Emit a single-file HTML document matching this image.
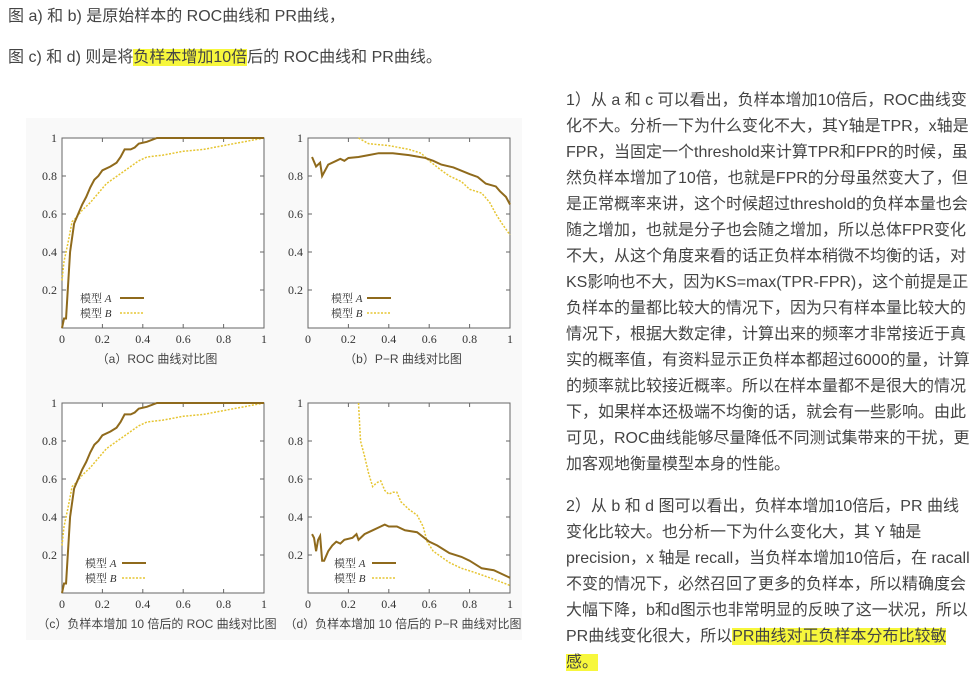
<!DOCTYPE html>
<html><head><meta charset="utf-8">
<style>
body{margin:0;width:980px;height:682px;background:#fff;overflow:hidden;position:relative;font-family:"Liberation Sans","Noto Sans CJK SC",sans-serif;color:#444;}
.t{position:absolute;font-size:16px;white-space:nowrap;line-height:26px;}
.hl{background:#f7f73c;}
.col{position:absolute;left:566px;top:88px;font-size:16px;line-height:26px;}
.col div{white-space:nowrap;}
#fig{position:absolute;left:0;top:0;}
</style></head><body>
<div class="t" style="left:8px;top:4px;">图 a) 和 b) 是原始样本的 ROC曲线和 PR曲线，</div>
<div class="t" style="left:8px;top:45px;">图 c) 和 d) 则是将<span class="hl">负样本增加10倍</span>后的 ROC曲线和 PR曲线。</div>
<svg id="fig" width="980" height="682"></svg>
<div class="col">
<div>
<div>1）从 a 和 c 可以看出，负样本增加10倍后，ROC曲线变</div>
<div>化不大。分析一下为什么变化不大，其Y轴是TPR，x轴是</div>
<div>FPR，当固定一个threshold来计算TPR和FPR的时候，虽</div>
<div>然负样本增加了10倍，也就是FPR的分母虽然变大了，但</div>
<div>是正常概率来讲，这个时候超过threshold的负样本量也会</div>
<div>随之增加，也就是分子也会随之增加，所以总体FPR变化</div>
<div>不大，从这个角度来看的话正负样本稍微不均衡的话，对</div>
<div>KS影响也不大，因为KS=max(TPR-FPR)，这个前提是正</div>
<div>负样本的量都比较大的情况下，因为只有样本量比较大的</div>
<div>情况下，根据大数定律，计算出来的频率才非常接近于真</div>
<div>实的概率值，有资料显示正负样本都超过6000的量，计算</div>
<div>的频率就比较接近概率。所以在样本量都不是很大的情况</div>
<div>下，如果样本还极端不均衡的话，就会有一些影响。由此</div>
<div>可见，ROC曲线能够尽量降低不同测试集带来的干扰，更</div>
<div>加客观地衡量模型本身的性能。</div>
</div>
<div style="margin-top:16px;">
<div>2）从 b 和 d 图可以看出，负样本增加10倍后，PR 曲线</div>
<div>变化比较大。也分析一下为什么变化大，其 Y 轴是</div>
<div>precision，x 轴是 recall，当负样本增加10倍后，在 racall</div>
<div>不变的情况下，必然召回了更多的负样本，所以精确度会</div>
<div>大幅下降，b和d图示也非常明显的反映了这一状况，所以</div>
<div>PR曲线变化很大，所以<span class="hl">PR曲线对正负样本分布比较敏</span></div>
<div><span class="hl">感。</span></div>
</div>
</div>
<script>
const ticks=[0,0.2,0.4,0.6,0.8,1];
const tickLabels=["0","0.2","0.4","0.6","0.8","1"];
const rocAx=[0,0.01,0.02,0.04,0.06,0.08,0.1,0.12,0.14,0.16,0.18,0.2,0.24,0.27,0.29,0.31,0.34,0.36,0.38,0.42,0.47,1];
const rocAy=[0,0.05,0.05,0.4,0.55,0.6,0.65,0.69,0.74,0.78,0.8,0.83,0.85,0.87,0.9,0.94,0.94,0.95,0.97,0.98,1,1];
const rocBx=[0,0.01,0.03,0.05,0.07,0.1,0.14,0.18,0.22,0.26,0.3,0.34,0.38,0.42,0.5,0.6,0.7,0.8,0.9,1];
const rocBy=[0.25,0.35,0.45,0.56,0.58,0.62,0.66,0.71,0.76,0.79,0.82,0.85,0.88,0.9,0.91,0.93,0.94,0.96,0.98,1];
const prAx=[0.02,0.04,0.06,0.07,0.1,0.14,0.16,0.18,0.2,0.25,0.3,0.35,0.42,0.5,0.58,0.62,0.66,0.72,0.8,0.84,0.88,0.93,0.95,0.98,1];
const prAy=[0.9,0.85,0.87,0.8,0.86,0.88,0.89,0.88,0.895,0.9,0.91,0.92,0.92,0.91,0.895,0.88,0.86,0.845,0.81,0.795,0.76,0.745,0.72,0.69,0.65];
const prBx=[0.25,0.3,0.4,0.5,0.56,0.6,0.66,0.7,0.76,0.8,0.86,0.9,0.93,0.96,1];
const prBy=[1,0.97,0.96,0.94,0.92,0.88,0.83,0.8,0.77,0.73,0.71,0.66,0.6,0.55,0.49];
const pr10Ax=[0.02,0.03,0.04,0.05,0.06,0.07,0.08,0.1,0.12,0.14,0.16,0.18,0.22,0.24,0.25,0.28,0.32,0.36,0.38,0.4,0.44,0.48,0.54,0.6,0.64,0.7,0.76,0.8,0.86,0.92,0.96,1];
const pr10Ay=[0.31,0.29,0.22,0.28,0.3,0.17,0.17,0.22,0.25,0.27,0.26,0.28,0.29,0.31,0.28,0.31,0.33,0.35,0.36,0.35,0.35,0.33,0.32,0.27,0.25,0.21,0.19,0.17,0.13,0.12,0.1,0.08];
const pr10Bx=[0.25,0.26,0.28,0.3,0.32,0.34,0.36,0.38,0.4,0.42,0.44,0.46,0.5,0.54,0.57,0.59,0.62,0.66,0.7,0.76,0.82,0.9,0.95,1];
const pr10By=[1,0.8,0.72,0.63,0.56,0.58,0.59,0.54,0.52,0.53,0.53,0.48,0.44,0.41,0.35,0.27,0.22,0.19,0.16,0.13,0.11,0.08,0.06,0.04];
const svg=document.getElementById('fig');const NS='http://www.w3.org/2000/svg';
function mk(t,a,p){const e=document.createElementNS(NS,t);for(const k in a)e.setAttribute(k,a[k]);(p||svg).appendChild(e);return e;}
const bg=mk('rect',{x:26,y:118,width:496,height:522,fill:'#f9f9f9'});


function chart(name,L,T,ax,ay,bx,by,cap,legX,legLine){
  const W=202,H=190;
  const g=mk('g',{});
  
  
  const sx=v=>L+v*W, sy=v=>T+H-v*H;
  const fr=mk('rect',{x:L,y:T,width:W,height:H,fill:'#fff',stroke:'#666','stroke-width':1},g);
  
  
  ticks.forEach((t,i)=>{
    mk('line',{x1:sx(t),x2:sx(t),y1:T+H,y2:T+H-4,stroke:'#666'},g);
    mk('line',{x1:sx(t),x2:sx(t),y1:T,y2:T+4,stroke:'#666'},g);
    mk('line',{x1:L,x2:L+4,y1:sy(t),y2:sy(t),stroke:'#666'},g);
    mk('line',{x1:L+W,x2:L+W-4,y1:sy(t),y2:sy(t),stroke:'#666'},g);
    const xl=mk('text',{x:sx(t),y:T+H+15,'text-anchor':'middle','font-size':12,'font-family':'Liberation Serif,serif',fill:'#333'},g);
    xl.textContent=tickLabels[i];
    
    
    if(t>0){const yl=mk('text',{x:L-5,y:sy(t)+4,'text-anchor':'end','font-size':12,'font-family':'Liberation Serif,serif',fill:'#333'},g);
    yl.textContent=tickLabels[i];
    
    }
  });
  const pb=mk('polyline',{points:bx.map((v,i)=>sx(v)+','+sy(by[i])).join(' '),fill:'none',stroke:'#e6c532','stroke-width':1.5,'stroke-dasharray':'2,1.5'},g);
  
  
  const pa=mk('polyline',{points:ax.map((v,i)=>sx(v)+','+sy(ay[i])).join(' '),fill:'none',stroke:'#8f6a1c','stroke-width':2},g);
  
  
  [['模型 ','A',298-138,'#8f6a1c',''],['模型 ','B',313-138,'#e6c532','2,1.5']].forEach(r=>{
    const lt=mk('text',{x:legX,y:T+r[2]+4,'font-size':11,'font-family':'Liberation Serif,Noto Serif CJK SC,serif',fill:'#333'},g);
    lt.textContent=r[0];
    const it=mk('tspan',{'font-style':'italic'},lt);it.textContent=r[1];
    
    
    mk('line',{x1:legLine,x2:legLine+24,y1:T+r[2],y2:T+r[2],stroke:r[3],'stroke-width':r[4]?1.5:2,'stroke-dasharray':r[4]||'none'},g);
  });
  const c=mk('text',{x:L+W/2-6,y:T+H+35,'text-anchor':'middle','font-size':12,'font-family':'Liberation Sans,Noto Sans CJK SC,sans-serif',fill:'#444'},g);
  c.textContent=cap;
  
  
}
chart('chart-a-roc',62,138,rocAx,rocAy,rocBx,rocBy,'（a）ROC 曲线对比图',80,120);
chart('chart-b-pr',308,138,prAx,prAy,prBx,prBy,'（b）P−R 曲线对比图',331,367);
chart('chart-c-roc-10x',62,403,rocAx,rocAy,rocBx,rocBy,'（c）负样本增加 10 倍后的 ROC 曲线对比图',85,122);
chart('chart-d-pr-10x',308,403,pr10Ax,pr10Ay,pr10Bx,pr10By,'（d）负样本增加 10 倍后的 P−R 曲线对比图',334,372);
</script>
</body></html>
